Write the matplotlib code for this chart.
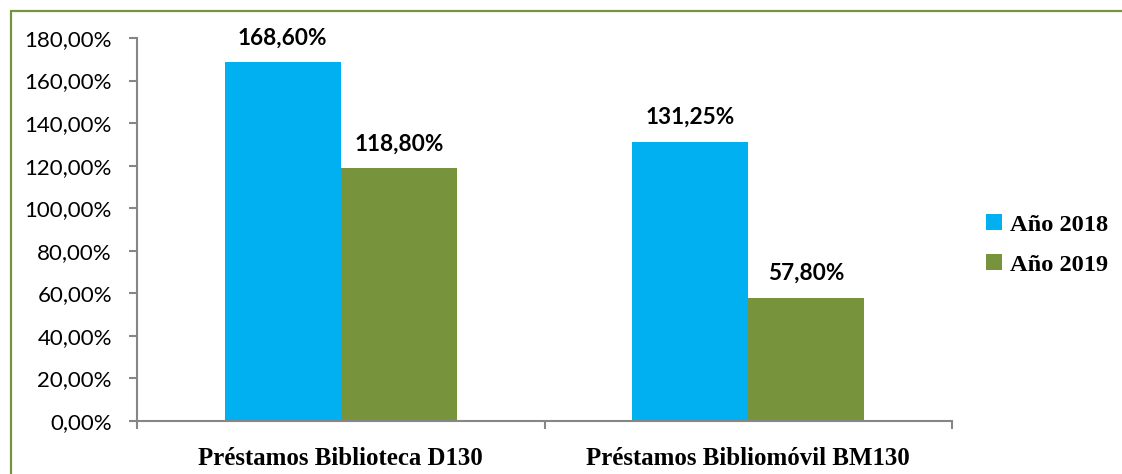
import matplotlib
matplotlib.use("Agg")
import matplotlib.pyplot as plt
from matplotlib.patches import Rectangle, Patch
from matplotlib.ticker import FuncFormatter, FixedLocator
import numpy as np

categories = ["Préstamos Biblioteca D130", "Préstamos Bibliomóvil BM130"]
series_names = ["Año 2018", "Año 2019"]
vals_2018 = [168.60, 131.25]
vals_2019 = [118.80, 57.80]

BLUE = "#00B0F0"
GREEN = "#77933C"
AXIS = "#868686"

fig = plt.figure(figsize=(11.22, 4.74), dpi=100)
fig.patch.set_facecolor("white")
# green outer frame (runs off the right and bottom edge)
fig.patches.append(Rectangle((11 / 1122, -0.2), 1.2, 0.2 + 1 - 10.7 / 474,
                             transform=fig.transFigure, fill=False,
                             edgecolor=GREEN, linewidth=1.6, zorder=0))

ax = fig.add_axes([137 / 1122, 1 - 421 / 474, 815 / 1122, 383 / 474])

x = np.arange(len(categories))
w = 0.285
b1 = ax.bar(x - w / 2, vals_2018, w, color=BLUE, label=series_names[0])
b2 = ax.bar(x + w / 2, vals_2019, w, color=GREEN, label=series_names[1])

for bars, vals in [(b1, vals_2018), (b2, vals_2019)]:
    for r, v in zip(bars, vals):
        ax.annotate(f"{v:.2f}%".replace(".", ","),
                    (r.get_x() + r.get_width() / 2, v),
                    xytext=(0, 10), textcoords="offset points",
                    ha="center", va="bottom", fontsize=16.3,
                    fontweight="bold", family="Lato")

ax.set_xlim(-0.5, 1.5)
ax.set_ylim(0, 180)
ax.set_yticks(np.arange(0, 181, 20))
ax.yaxis.set_major_formatter(FuncFormatter(lambda v, p: f"{v:.2f}%".replace(".", ",")))
ax.set_xticks(x)
ax.set_xticklabels(categories, family="Liberation Serif", fontweight="bold", fontsize=17.9)
ax.xaxis.set_minor_locator(FixedLocator([-0.5, 0.5, 1.5]))
ax.tick_params(axis="x", which="major", length=0, pad=19)
ax.tick_params(axis="x", which="minor", length=6, width=1.5, color=AXIS, direction="out")
ax.tick_params(axis="y", length=6, width=1.5, color=AXIS, direction="out", pad=12)
for lbl in ax.get_yticklabels():
    lbl.set_family("Lato")
    lbl.set_fontsize(16)

for s in ["top", "right"]:
    ax.spines[s].set_visible(False)
for s in ["left", "bottom"]:
    ax.spines[s].set_color(AXIS)
    ax.spines[s].set_linewidth(1.5)

handles = [Patch(facecolor=BLUE, label=series_names[0]),
           Patch(facecolor=GREEN, label=series_names[1])]
ax.legend(handles=handles, loc="center left", bbox_to_anchor=(964 / 1122, 1 - 245 / 474),
          bbox_transform=fig.transFigure, frameon=False, handlelength=0.65, handleheight=0.65,
          handletextpad=0.35, labelspacing=0.75,
          prop={"family": "Liberation Serif", "weight": "bold", "size": 17.6})

fig.savefig("out.png", dpi=100, facecolor="white")
